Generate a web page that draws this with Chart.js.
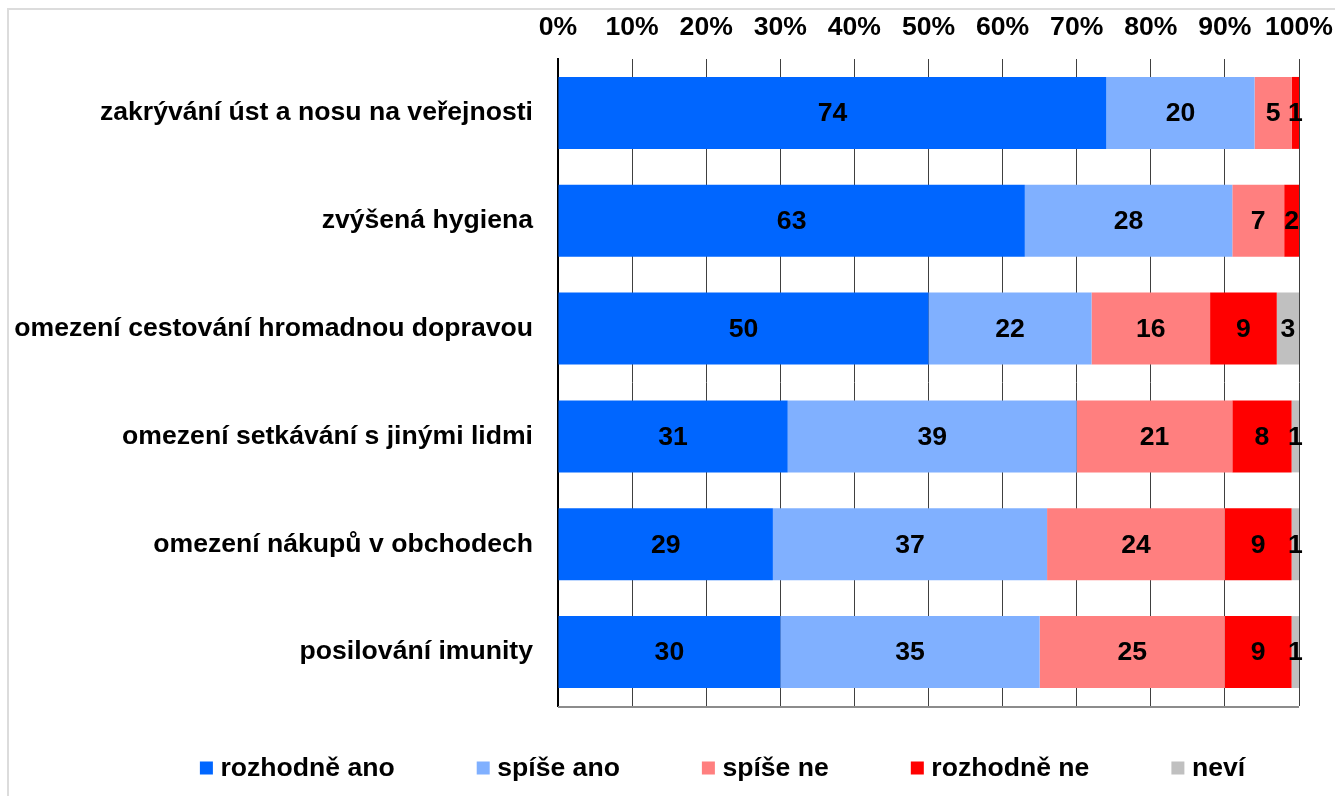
<!DOCTYPE html>
<html lang="cs">
<head>
<meta charset="utf-8">
<title>Opatření</title>
<script src="https://cdn.jsdelivr.net/npm/chart.js@4/dist/chart.umd.min.js"></script>
<style>
  html, body { margin: 0; padding: 0; background: #fff; overflow: hidden; }
  #frame {
    position: absolute;
    left: 7px;
    top: 8px;
    width: 1440px;
    height: 800px;
    border-left: 2px solid #dcdcdc;
    border-top: 2px solid #dcdcdc;
  }
  canvas { display: block; }
</style>
</head>
<body>
<div id="frame">
  <canvas id="greenChart" width="1427" height="786"></canvas>
</div>
<script>
  'use strict'

  // Categories (rows of the chart)
  const categories = [
    'zakrývání úst a nosu na veřejnosti',
    'zvýšená hygiena',
    'omezení cestování hromadnou dopravou',
    'omezení setkávání s jinými lidmi',
    'omezení nákupů v obchodech',
    'posilování imunity'
  ];

  // Answers (series names)
  const seriesNames = ['rozhodně ano', 'spíše ano', 'spíše ne', 'rozhodně ne', 'neví'];

  // Values in percent for each answer
  const rozhodneAno = [74, 63, 50, 31, 29, 30];
  const spiseAno = [20, 28, 22, 39, 37, 35];
  const spiseNe = [5, 7, 16, 21, 24, 25];
  const rozhodneNe = [1, 2, 9, 8, 9, 9];
  const nevi = [0, 0, 3, 1, 1, 1];

  // Tick values of the percent axis
  const tickValues = [0, 10, 20, 30, 40, 50, 60, 70, 80, 90, 100];

  const seriesColors = ['#0066FF', '#80B0FF', '#FF7F7F', '#FF0000', '#C0C0C0'];
  const seriesValues = [rozhodneAno, spiseAno, spiseNe, rozhodneNe, nevi];

  const fontFamily = '"Liberation Sans", Arial, sans-serif';
  const fontSize = 26.6;
  const boldFont = 'bold ' + fontSize + 'px ' + fontFamily;

  // Build datasets for the stacked bar chart
  function getChartData() {
    let returnData = [];
    seriesNames.forEach((name, i) => {
      returnData.push({
        label: name,
        data: seriesValues[i],
        backgroundColor: seriesColors[i],
        borderWidth: 0,
        categoryPercentage: 1,
        barPercentage: 0.667
      });
    });
    return returnData;
  }

  // Numbers in the middle of every segment
  const valueLabels = {
    id: 'valueLabels',
    afterDatasetsDraw(chart) {
      const ctx = chart.ctx;
      ctx.save();
      ctx.font = boldFont;
      ctx.fillStyle = '#000';
      ctx.textAlign = 'center';
      ctx.textBaseline = 'middle';
      chart.data.datasets.forEach((ds, i) => {
        chart.getDatasetMeta(i).data.forEach((bar, j) => {
          const v = ds.data[j];
          if (!v) {
            return;
          }
          ctx.fillText(String(v), (bar.x + bar.base) / 2, bar.y + 1);
        });
      });
      ctx.restore();
    }
  };

  // Bottom line of the plot area
  const bottomLine = {
    id: 'bottomLine',
    afterDatasetsDraw(chart) {
      const ctx = chart.ctx;
      const a = chart.chartArea;
      ctx.save();
      ctx.strokeStyle = '#8c8c8c';
      ctx.lineWidth = 2;
      ctx.beginPath();
      ctx.moveTo(a.left, a.bottom + 1);
      ctx.lineTo(a.right, a.bottom + 1);
      ctx.stroke();
      ctx.restore();
    }
  };

  // Legend drawn below the plot, spaced like the original
  const bottomLegend = {
    id: 'bottomLegend',
    afterDraw(chart) {
      const ctx = chart.ctx;
      const box = 13;
      const textGap = 7.5;
      const itemGap = 82;
      ctx.save();
      ctx.font = boldFont;
      ctx.textBaseline = 'middle';
      ctx.textAlign = 'left';
      const widths = seriesNames.map(n => ctx.measureText(n).width);
      let total = widths.reduce((s, w) => s + box + textGap + w, 0) + itemGap * (seriesNames.length - 1);
      let x = chart.width / 2 - total / 2;
      const y = chart.chartArea.bottom + 62;
      seriesNames.forEach((name, i) => {
        ctx.fillStyle = seriesColors[i];
        ctx.fillRect(x, y - box / 2, box, box);
        ctx.fillStyle = '#000';
        ctx.fillText(name, x + box + textGap, y + 1);
        x += box + textGap + widths[i] + itemGap;
      });
      ctx.restore();
    }
  };

  const ctx = document.getElementById('greenChart');

  new Chart(ctx, {
    type: 'bar',
    data: {
      labels: categories,
      datasets: getChartData()
    },
    plugins: [valueLabels, bottomLine, bottomLegend],
    options: {
      indexAxis: 'y',
      responsive: false,
      animation: false,
      layout: {
        padding: { top: 0, right: 137, bottom: 90, left: 0 }
      },
      plugins: {
        legend: { display: false },
        tooltip: { enabled: false }
      },
      scales: {
        x: {
          position: 'top',
          stacked: true,
          min: 0,
          max: 100,
          afterFit(scale) {
            scale.height = 49;
          },
          afterBuildTicks(scale) {
            scale.ticks = tickValues.map(v => ({ value: v }));
          },
          ticks: {
            padding: 15,
            color: '#000',
            font: { family: fontFamily, size: fontSize, weight: 'bold' },
            callback: v => v + '%'
          },
          grid: {
            color: '#404040',
            lineWidth: 1,
            drawTicks: false
          },
          border: { display: false }
        },
        y: {
          stacked: true,
          afterFit(scale) {
            scale.width = 549;
          },
          ticks: {
            padding: 25,
            color: '#000',
            font: { family: fontFamily, size: fontSize, weight: 'bold' }
          },
          grid: { display: false, drawTicks: false },
          border: { display: true, color: '#000', width: 2 }
        }
      }
    }
  });
</script>
</body>
</html>
